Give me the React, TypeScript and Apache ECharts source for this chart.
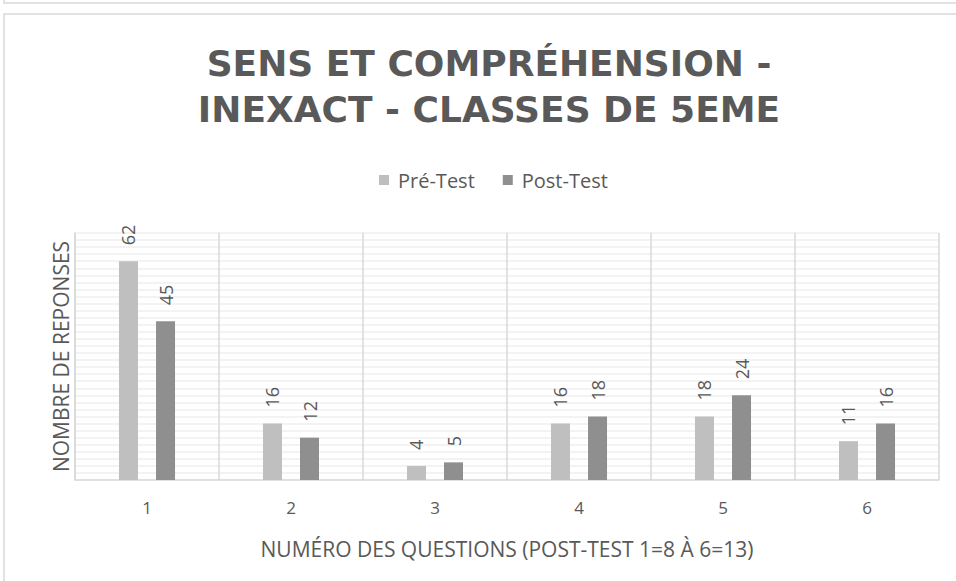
import React, { useEffect, useRef } from "react";
import * as echarts from "echarts";

const categories = ["1", "2", "3", "4", "5", "6"];
const preTest = [62, 16, 4, 16, 18, 11];
const postTest = [45, 12, 5, 18, 24, 16];
const seriesNames = ["Pré-Test", "Post-Test"];
const titleLines = ["SENS ET COMPRÉHENSION -", "INEXACT - CLASSES DE 5EME"];
const xAxisName = "NUMÉRO DES QUESTIONS (POST-TEST 1=8 À 6=13)";
const yAxisName = "NOMBRE DE REPONSES";

const FONT = "'Open Sans', sans-serif";
const TITLE_FONT = "'DejaVu Sans', sans-serif";
const TEXT = "#595959";

export default function App() {
  const ref = useRef<HTMLDivElement>(null);
  useEffect(() => {
    if (!ref.current) return;
    const chart = echarts.init(ref.current, null, { renderer: "svg" });
    const label = {
      show: true,
      position: "top",
      rotate: 90,
      align: "left",
      verticalAlign: "middle",
      distance: 16,
      color: TEXT,
      fontSize: 18,
      fontFamily: FONT,
    };
    chart.setOption({
      animation: false,
      backgroundColor: "#ffffff",
      textStyle: { fontFamily: FONT },
      graphic: [
        {
          type: "rect",
          shape: { x: 4, y: -10, width: 960, height: 13 },
          style: { fill: "none", stroke: "#d9d9d9", lineWidth: 1.5 },
        },
        {
          type: "rect",
          shape: { x: 4, y: 14, width: 960, height: 600 },
          style: { fill: "none", stroke: "#d9d9d9", lineWidth: 1.5 },
        },
        ...titleLines.map((t, i) => ({
          type: "text",
          x: 489,
          y: 63 + i * 46.5,
          style: {
            text: t,
            textAlign: "center",
            textVerticalAlign: "middle",
            fill: TEXT,
            font: `bold 36px ${TITLE_FONT}`,
          },
        })),
      ],
      legend: {
        top: 165,
        left: 374,
        itemWidth: 10,
        itemHeight: 10,
        itemGap: 28,
        icon: "rect",
        textStyle: { color: TEXT, fontSize: 20, fontFamily: FONT, padding: [0, 0, 0, 4] },
        data: seriesNames,
      },
      grid: { left: 75, right: 17, top: 233, bottom: 101, containLabel: false },
      xAxis: {
        type: "category",
        data: categories,
        name: xAxisName,
        nameLocation: "middle",
        nameGap: 58,
        nameTextStyle: { color: TEXT, fontSize: 21, fontFamily: FONT },
        axisLine: { show: true, lineStyle: { color: "#d9d9d9", width: 1.5 } },
        axisTick: { show: false },
        axisLabel: { color: TEXT, fontSize: 17, margin: 19, fontFamily: FONT },
        splitLine: { show: true, interval: 0, lineStyle: { color: "#d9d9d9", width: 1.5 } },
      },
      yAxis: {
        type: "value",
        min: 0,
        max: 70,
        interval: 2,
        name: yAxisName,
        nameLocation: "middle",
        nameGap: 4,
        nameTextStyle: { color: TEXT, fontSize: 21, fontFamily: FONT },
        axisLine: { show: true, lineStyle: { color: "#d9d9d9", width: 1.5 } },
        axisTick: { show: false },
        axisLabel: { show: false },
        splitLine: { show: true, lineStyle: { color: "#efefef", width: 1.5 } },
      },
      series: [
        {
          name: seriesNames[0],
          type: "bar",
          data: preTest,
          barWidth: 19,
          barGap: "95%",
          itemStyle: { color: "#bfbfbf" },
          label,
        },
        {
          name: seriesNames[1],
          type: "bar",
          data: postTest,
          barWidth: 19,
          barGap: "95%",
          itemStyle: { color: "#8f8f8f" },
          label,
        },
      ],
    });
    return () => chart.dispose();
  }, []);
  return (
    <div
      ref={ref}
      style={{ position: "fixed", left: 0, top: 0, width: 956, height: 581 }}
    />
  );
}
